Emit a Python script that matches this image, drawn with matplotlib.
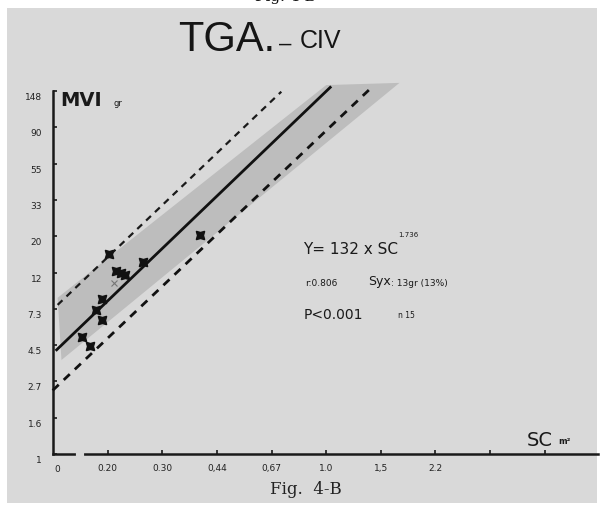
import matplotlib.pyplot as plt
import numpy as np
from matplotlib.patches import Rectangle, Polygon
from matplotlib.transforms import ScaledTranslation

# data (SC in m2, MVI in gr)
sc_pts = [0.204, 0.214, 0.222, 0.230, 0.262, 0.194, 0.186, 0.194, 0.167, 0.178, 0.396]
mvi_pts = [15.7, 12.4, 12.1, 11.8, 14.1, 8.5, 7.3, 6.3, 5.0, 4.4, 20.4]
sc_faint = [0.211]
mvi_faint = [10.5]

# regression line and limits
line_sc = [0.139, 1.03]
line_mvi = [4.2, 156]
upper_sc = [0.140, 0.72]
upper_mvi = [7.8, 147]
lower_sc = [0.135, 1.39]
lower_mvi = [2.4, 155]

# shaded band corners
band_sc = [0.140, 1.00, 1.71, 0.144]
band_mvi = [8.6, 161, 166, 3.65]

xticks = np.exp(np.arange(-4, 5) * 0.4)
xlabels = ['0.20', '0.30', '0,44', '0,67', '1.0', '1,5', '2.2', '', '']
yticks = np.exp(np.arange(0, 11) * 0.5)
ylabels = ['1', '1.6', '2.7', '4.5', '7.3', '12', '20', '33', '55', '90', '148']

W, H = 603, 507


def fx(px):
    return px / W


def fy(py):
    return (H - py) / H


fig = plt.figure(figsize=(6.03, 5.07), dpi=100)
fig.patch.set_facecolor('white')
# scanned page
fig.patches.append(Rectangle((fx(7), fy(503)), fx(597) - fx(7), fy(8) - fy(503),
                             transform=fig.transFigure, facecolor='#d9d9d9',
                             edgecolor='none', zorder=-10))

ax = fig.add_axes([fx(53), fy(454), fx(598) - fx(53), fy(91) - fy(454)])
ax.set_zorder(1)
ax.patch.set_alpha(0)
ax.set_xscale('log')
ax.set_yscale('log')
ax.set_xlim(np.exp(-2.0), np.exp(1.99))
ax.set_ylim(1, np.exp(5))

ax.add_patch(Polygon(list(zip(band_sc, band_mvi)), closed=True, facecolor='#bdbdbd',
                     edgecolor='none', zorder=1, clip_on=False))

ax.plot(line_sc, line_mvi, color='#111111', lw=2, zorder=3, clip_on=False)
ax.plot(upper_sc, upper_mvi, color='#1a1a1a', lw=1.6, ls=(0, (3, 2.5)), zorder=3, clip_on=False)
ax.plot(lower_sc, lower_mvi, color='#111111', lw=2, ls=(0, (3, 2.5)), zorder=3, clip_on=False)

ax.plot(sc_pts, mvi_pts, ls='none', marker=(4, 1, 45), ms=8.5, color='#111111', zorder=4)
ax.plot(sc_faint, mvi_faint, ls='none', marker='x', ms=4, mew=0.8, color='#777777', zorder=4)

for s in ['top', 'right']:
    ax.spines[s].set_visible(False)
for s in ['left', 'bottom']:
    ax.spines[s].set_linewidth(1.8)
    ax.spines[s].set_color('#1a1a1a')

ax.minorticks_off()
ax.set_xticks(xticks)
ax.set_xticklabels(xlabels)
ax.set_yticks(yticks)
ax.set_yticklabels(ylabels)
ax.tick_params(direction='in', length=3, width=1.2, color='#1a1a1a',
               labelsize=6.5, labelcolor='#222222')
ax.tick_params(axis='x', pad=7)
ax.tick_params(axis='y', pad=8)
for lbl in ax.get_yticklabels():
    lbl.set_transform(lbl.get_transform() + ScaledTranslation(0, -4 / 72, fig.dpi_scale_trans))

# axis break near the origin
ax.plot([0.1625, 0.1675], [1, 1], color='#d9d9d9', lw=3, zorder=5, clip_on=False)

# texts
fig.text(fx(57), fy(469), '0', fontsize=6.5, color='#222222', ha='center', va='center')
fig.text(fx(178), fy(40), 'TGA.', fontsize=30, family='Liberation Sans', color='#151515',
         va='center')
fig.text(fx(279), fy(44), '–', fontsize=16, family='Liberation Sans', color='#151515',
         va='center')
fig.text(fx(300), fy(41), 'CIV', fontsize=18, family=['Liberation Sans Narrow', 'Liberation Sans'],
         color='#151515', va='center')
fig.text(fx(60), fy(100), 'MVI', fontsize=14, weight='bold', color='#1a1a1a', va='center')
fig.text(fx(113), fy(104), 'gr', fontsize=6, color='#1a1a1a', va='center')
fig.text(fx(527), fy(440), 'SC', fontsize=14, color='#1a1a1a', va='center')
fig.text(fx(558), fy(442), 'm²', fontsize=6, weight='bold', color='#1a1a1a', va='center')

fig.text(fx(303), fy(250), 'Y= 132 x SC', fontsize=11, color='#1a1a1a', va='center')
fig.text(fx(398), fy(235), '1.736', fontsize=5, color='#1a1a1a', va='center')
fig.text(fx(305), fy(283), 'r:0.806', fontsize=6.5, color='#1a1a1a', va='center')
fig.text(fx(368), fy(282), 'Syx', fontsize=9, color='#1a1a1a', va='center')
fig.text(fx(391), fy(283), ': 13gr (13%)', fontsize=6.5, color='#1a1a1a', va='center')
fig.text(fx(304), fy(315), 'P<0.001', fontsize=10, color='#1a1a1a', va='center')
fig.text(fx(398), fy(315), 'n 15', fontsize=5.5, color='#1a1a1a', va='center')

fig.text(fx(270), fy(490), 'Fig.  4-B', fontsize=12, family='DejaVu Serif', color='#222222',
         va='center')
fig.text(fx(255), 1.005, 'Fig. 4-B', fontsize=11, family='DejaVu Serif', color='#111111',
         va='center')

fig.savefig('out.png', dpi=100)
